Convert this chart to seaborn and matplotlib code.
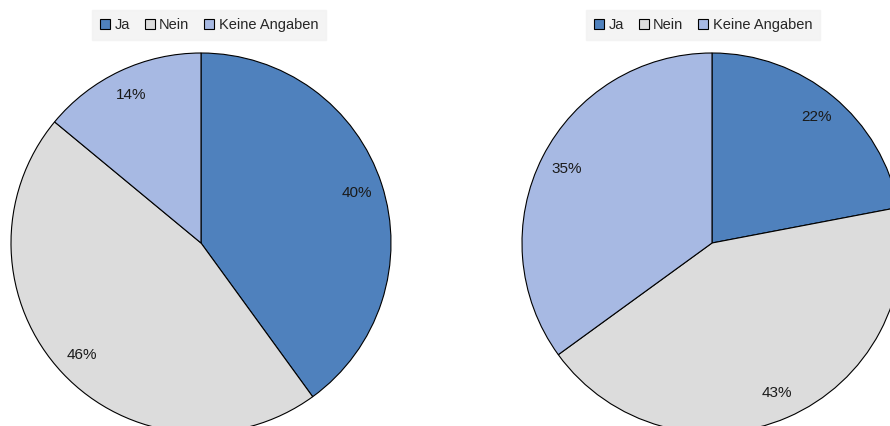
import matplotlib
matplotlib.use('Agg')
import matplotlib.pyplot as plt
import seaborn as sns

# Anteile je Kategorie (in Prozent)
categories = ['Ja', 'Nein', 'Keine Angaben']
left_values = [40, 46, 14]
right_values = [22, 43, 35]

sns.set_theme(style='white')
plt.rcParams['font.family'] = ['Liberation Sans', 'DejaVu Sans']

colors = ['#4F81BD', '#DCDCDC', '#A7B9E3']

fig = plt.figure(figsize=(8.9, 4.26), dpi=100)
W, H = 890, 426


def draw_pie(x0, values, legend_x):
    # axes placed so that the pie has radius 190 px and center at y=243
    ax = fig.add_axes([x0 / W, (H - 433) / H, 380 / W, 380 / H])
    wedges, _, autotexts = ax.pie(
        values, colors=colors, startangle=90, counterclock=False,
        autopct=lambda p: f'{p:.0f}%', pctdistance=0.86, radius=1,
        wedgeprops=dict(edgecolor='black', linewidth=0.8),
        textprops=dict(fontsize=11, color='#1a1a1a'))
    ax.set_xlim(-1, 1)
    ax.set_ylim(-1, 1)
    ax.set_aspect('equal')
    ax.axis('off')
    leg = fig.legend(wedges, categories, loc='upper center',
                     bbox_to_anchor=(legend_x / W, 1 - 3 / H), ncol=3,
                     fontsize=10.5, frameon=True, fancybox=False,
                     handlelength=0.7, handleheight=0.7, handletextpad=0.3,
                     columnspacing=1.0, borderpad=0.55)
    leg.get_frame().set_facecolor('#F2F2F2')
    leg.get_frame().set_edgecolor('#F2F2F2')
    for h in leg.legend_handles:
        h.set_linewidth(0.8)
        h.set_edgecolor('black')


draw_pie(11, left_values, 209)
draw_pie(522, right_values, 703)

fig.savefig('out.png', dpi=100)
